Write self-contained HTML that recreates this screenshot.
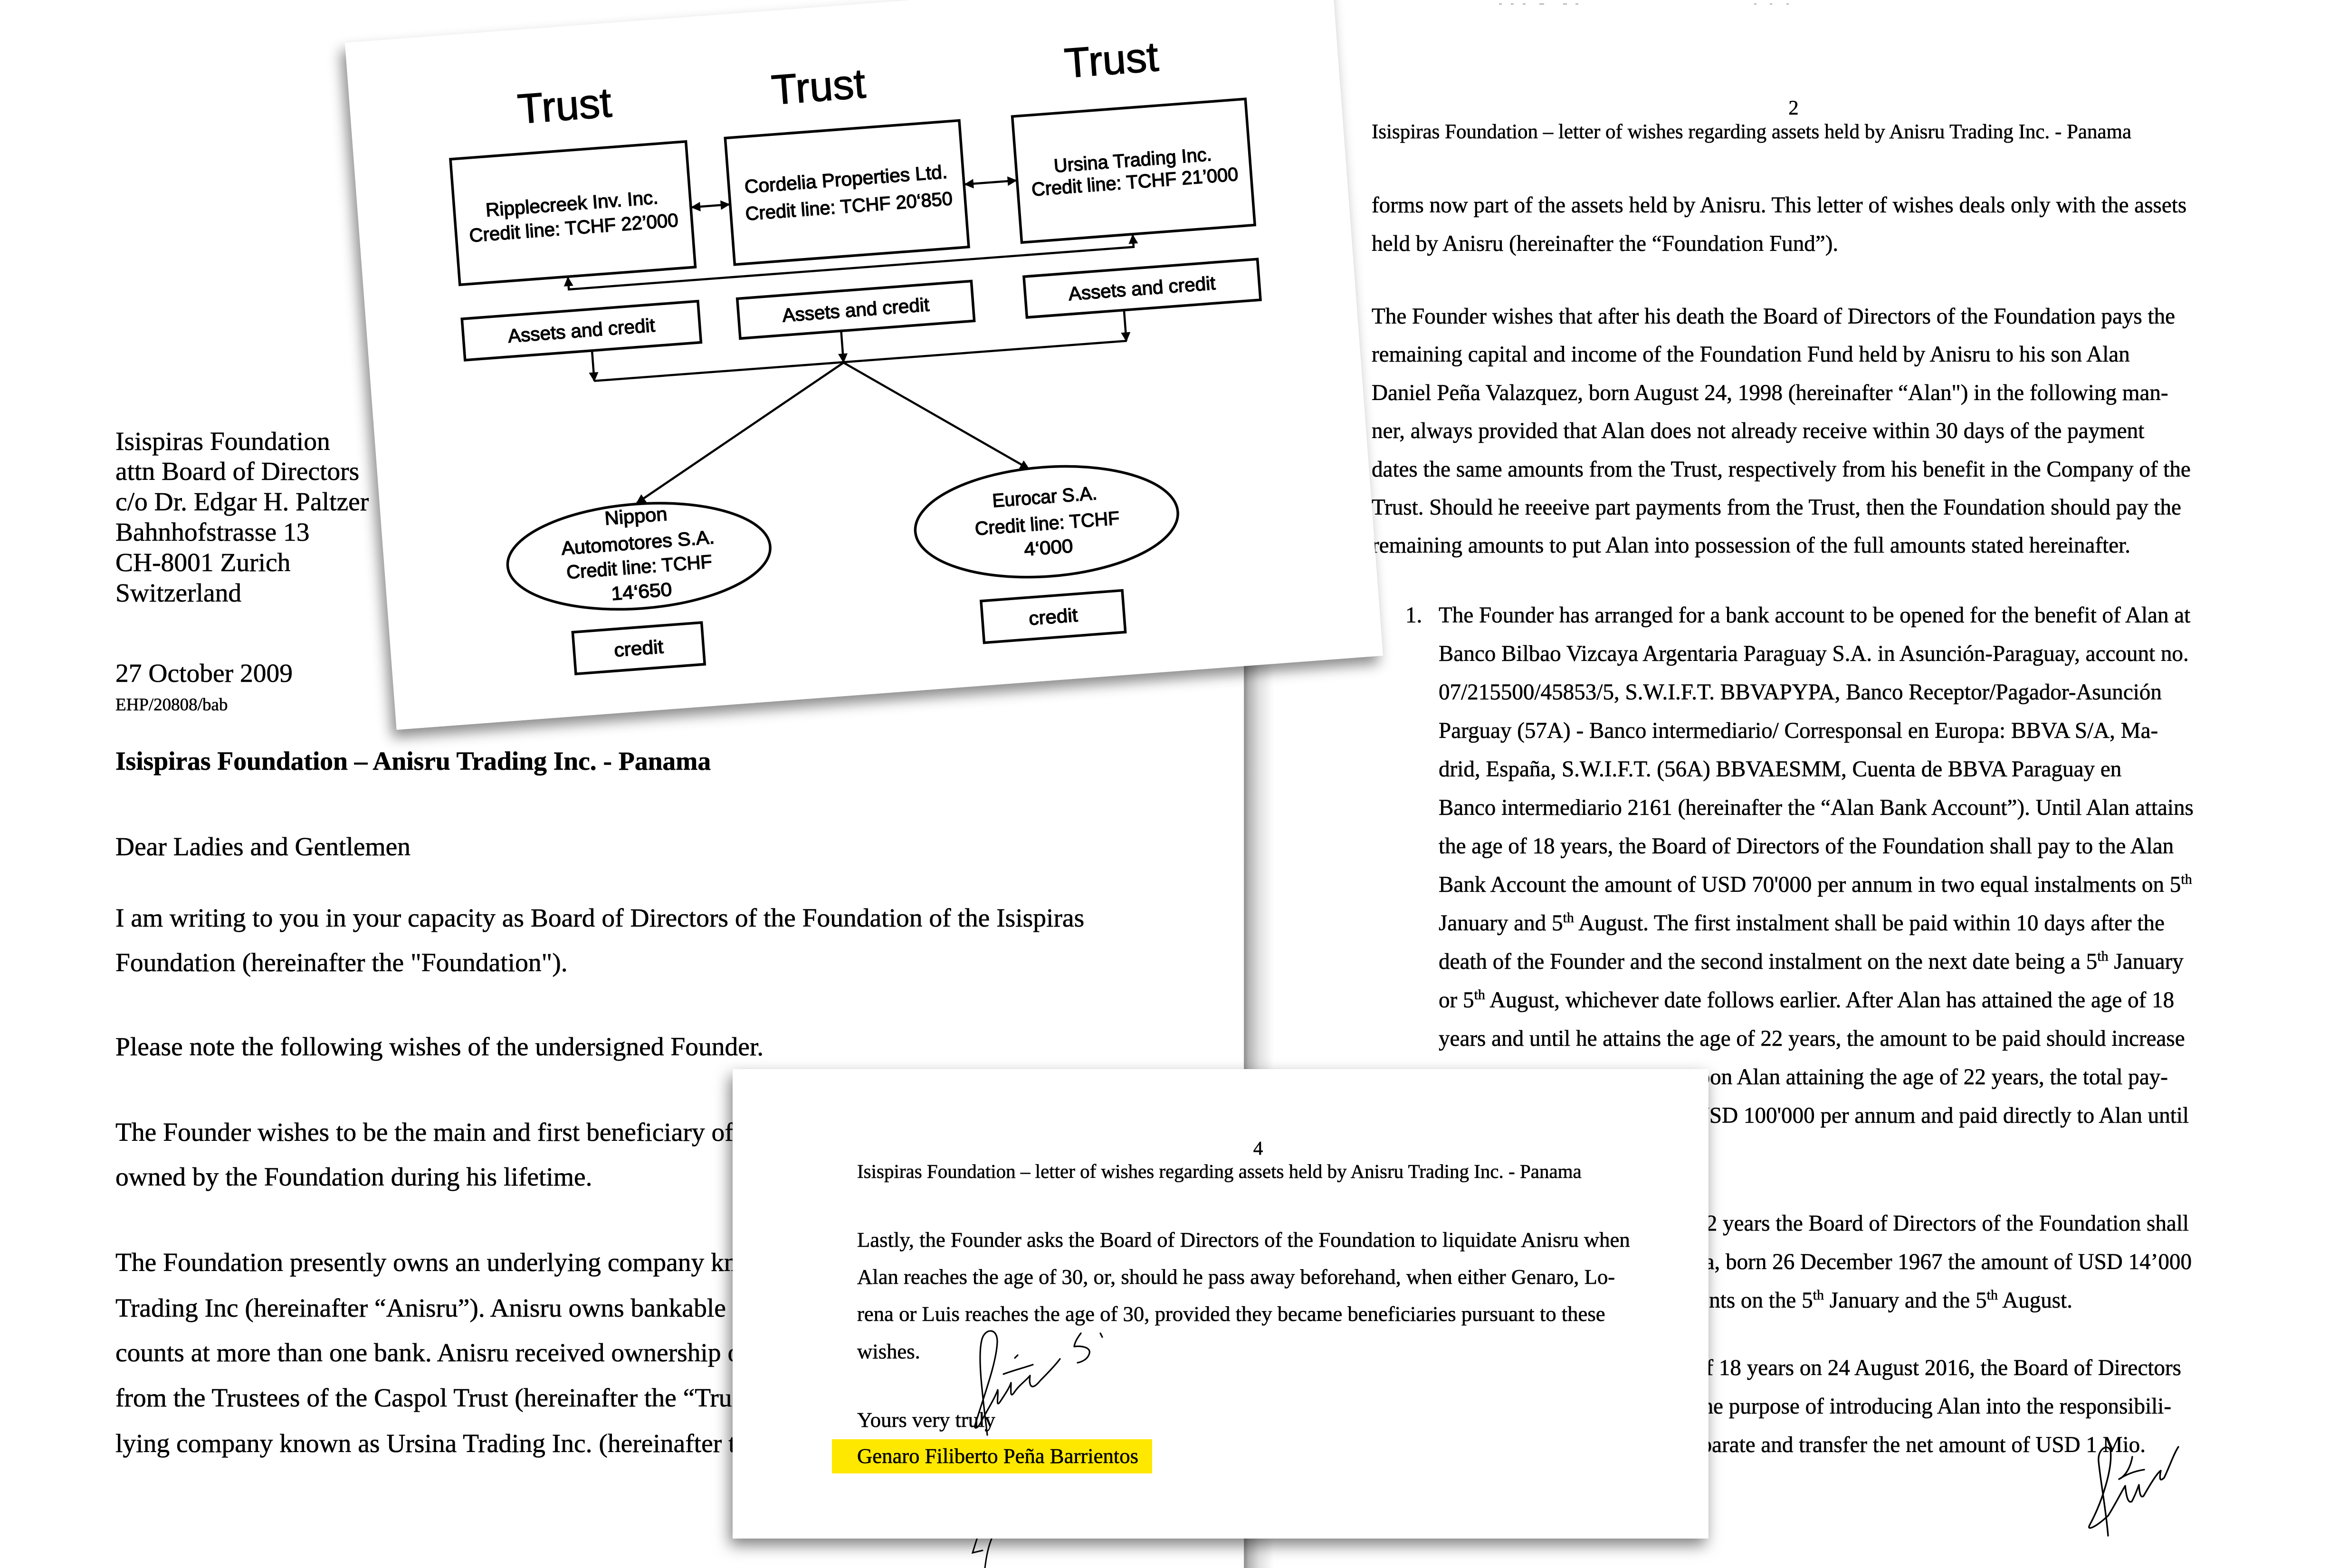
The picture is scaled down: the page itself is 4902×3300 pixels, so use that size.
<!DOCTYPE html>
<html><head><meta charset="utf-8"><title>Letter of wishes</title>
<style>
html,body{margin:0;padding:0;background:#fff;overflow:hidden;}
svg{display:block;}
.s{font-family:"Liberation Serif","Times New Roman",serif;fill:#000;stroke:#000;stroke-width:0.6;}
.d{font-family:"Liberation Sans Narrow","Liberation Sans",sans-serif;fill:#000;stroke:#000;stroke-width:1.4;}
</style></head>
<body>
<svg xmlns="http://www.w3.org/2000/svg" width="4902" height="3300" viewBox="0 0 4902 3300">
<defs>
<filter id="ds1" x="-6%" y="-6%" width="112%" height="116%">
<feDropShadow dx="-10" dy="16" stdDeviation="14" flood-color="#000" flood-opacity="0.45"/>
</filter>
<filter id="ds2" x="-6%" y="-8%" width="112%" height="120%">
<feDropShadow dx="-6" dy="14" stdDeviation="16" flood-color="#000" flood-opacity="0.5"/>
</filter>
<linearGradient id="lg" x1="0" y1="0" x2="1" y2="0">
<stop offset="0" stop-color="#8f8f8f"/>
<stop offset="0.15" stop-color="#b5b5b5"/>
<stop offset="0.5" stop-color="#e0e0e0"/>
<stop offset="1" stop-color="#ffffff"/>
</linearGradient>
<marker id="ah" viewBox="0 0 10 10" refX="9" refY="5" markerUnits="userSpaceOnUse" markerWidth="24" markerHeight="20" orient="auto-start-reverse">
<path d="M0,0 L10,5 L0,10 z" fill="#000"/>
</marker>
</defs>

<rect x="0" y="0" width="4902" height="3300" fill="#fff"/>

<g fill="#bbb">
<rect x="3155" y="7" width="6" height="3"/><rect x="3180" y="7" width="6" height="3"/><rect x="3205" y="7" width="6" height="3"/><rect x="3240" y="7" width="10" height="3"/><rect x="3290" y="7" width="8" height="3"/><rect x="3316" y="7" width="6" height="3"/>
<rect x="3692" y="7" width="5" height="3"/><rect x="3725" y="7" width="5" height="3"/><rect x="3760" y="7" width="5" height="3"/>
</g>

<!-- RIGHT PAGE TEXT -->
<g class="s">
<text x="3775" y="241" font-size="43" text-anchor="middle">2</text>
<text x="2887" y="291" font-size="43">Isispiras Foundation – letter of wishes regarding assets held by Anisru Trading Inc. - Panama</text>
<g font-size="47.1">
<text x="2887" y="447">forms now part of the assets held by Anisru. This letter of wishes deals only with the assets</text>
<text x="2887" y="528">held by Anisru (hereinafter the “Foundation Fund”).</text>
<text x="2887" y="681">The Founder wishes that after his death the Board of Directors of the Foundation pays the</text>
<text x="2887" y="761">remaining capital and income of the Foundation Fund held by Anisru to his son Alan</text>
<text x="2887" y="842">Daniel Peña Valazquez, born August 24, 1998 (hereinafter “Alan") in the following man-</text>
<text x="2887" y="922">ner, always provided that Alan does not already receive within 30 days of the payment</text>
<text x="2887" y="1003">dates the same amounts from the Trust, respectively from his benefit in the Company of the</text>
<text x="2887" y="1083">Trust. Should he reeeive part payments from the Trust, then the Foundation should pay the</text>
<text x="2887" y="1163">remaining amounts to put Alan into possession of the full amounts stated hereinafter.</text>

<text x="2958" y="1310">1.</text>
<text x="3028" y="1310">The Founder has arranged for a bank account to be opened for the benefit of Alan at</text>
<text x="3028" y="1391">Banco Bilbao Vizcaya Argentaria Paraguay S.A. in Asunción-Paraguay, account no.</text>
<text x="3028" y="1472">07/215500/45853/5, S.W.I.F.T. BBVAPYPA, Banco Receptor/Pagador-Asunción</text>
<text x="3028" y="1553">Parguay (57A) - Banco intermediario/ Corresponsal en Europa: BBVA S/A, Ma-</text>
<text x="3028" y="1634">drid, España, S.W.I.F.T. (56A) BBVAESMM, Cuenta de BBVA Paraguay en</text>
<text x="3028" y="1715">Banco intermediario 2161 (hereinafter the “Alan Bank Account”). Until Alan attains</text>
<text x="3028" y="1796">the age of 18 years, the Board of Directors of the Foundation shall pay to the Alan</text>
<text x="3028" y="1877">Bank Account the amount of USD 70'000 per annum in two equal instalments on 5<tspan font-size="30" dy="-17">th</tspan></text>
<text x="3028" y="1958">January and 5<tspan font-size="30" dy="-17">th</tspan><tspan dy="17"> August. The first instalment shall be paid within 10 days after the</tspan></text>
<text x="3028" y="2039">death of the Founder and the second instalment on the next date being a 5<tspan font-size="30" dy="-17">th</tspan><tspan dy="17"> January</tspan></text>
<text x="3028" y="2120">or 5<tspan font-size="30" dy="-17">th</tspan><tspan dy="17"> August, whichever date follows earlier. After Alan has attained the age of 18</tspan></text>
<text x="3028" y="2201">years and until he attains the age of 22 years, the amount to be paid should increase</text>
<text x="4563" y="2282" text-anchor="end">to USD 90'000 per annum. Upon Alan attaining the age of 22 years, the total pay-</text>
<text x="4607" y="2363" text-anchor="end">ment should be USD 100'000 per annum and paid directly to Alan until</text>
<text x="4607" y="2590" text-anchor="end">Upon Alan attaining 22 years the Board of Directors of the Foundation shall</text>
<text x="4613" y="2671" text-anchor="end">pay to Lorena, born 26 December 1967 the amount of USD 14’000</text>
<text x="4362" y="2752" text-anchor="end">instalments on the 5<tspan font-size="30" dy="-17">th</tspan><tspan dy="17"> January and the 5</tspan><tspan font-size="30" dy="-17">th</tspan><tspan dy="17"> August.</tspan></text>
<text x="4591" y="2894" text-anchor="end">Upon Alan reaching the age of 18 years on 24 August 2016, the Board of Directors</text>
<text x="4570" y="2975" text-anchor="end">shall for the purpose of introducing Alan into the responsibili-</text>
<text x="4516" y="3056" text-anchor="end">ties separate and transfer the net amount of USD 1 Mio.</text>
</g>
</g>

<g fill="none" stroke="#000" stroke-width="3.4" stroke-linecap="round" stroke-linejoin="round">
<path d="M4437,3232 C4433,3180 4420,3110 4417,3075 C4415,3050 4435,3038 4442,3052 C4447,3090 4425,3160 4398,3210 C4392,3222 4410,3215 4437,3190"/>
<path d="M4437,3190 C4450,3170 4465,3140 4473,3127 C4475,3145 4478,3165 4487,3160 C4495,3145 4500,3130 4502,3125 C4503,3140 4505,3155 4512,3148 C4525,3125 4540,3100 4548,3095 C4545,3110 4545,3120 4555,3110 C4565,3090 4575,3060 4585,3045"/>
<path d="M4460,3113 C4480,3100 4500,3095 4513,3093"/>
<path d="M4488,3066 C4485,3085 4475,3105 4462,3112"/>
</g>

<!-- LEFT PAGE -->
<rect x="2619" y="0" width="62" height="3300" fill="url(#lg)"/>
<rect x="-100" y="-100" width="2719" height="3500" fill="#fff"/>
<line x1="2619" y1="0" x2="2619" y2="3300" stroke="#9a9a9a" stroke-width="2"/>
<g class="s" font-size="55.5">
<text x="243" y="947">Isispiras Foundation</text>
<text x="243" y="1010">attn Board of Directors</text>
<text x="243" y="1074">c/o Dr. Edgar H. Paltzer</text>
<text x="243" y="1138">Bahnhofstrasse 13</text>
<text x="243" y="1202">CH-8001 Zurich</text>
<text x="243" y="1266">Switzerland</text>
<text x="243" y="1435">27 October 2009</text>
<text x="243" y="1495" font-size="37">EHP/20808/bab</text>
<text x="243" y="1620" font-weight="bold">Isispiras Foundation – Anisru Trading Inc. - Panama</text>
<text x="243" y="1800">Dear Ladies and Gentlemen</text>
<text x="243" y="1950">I am writing to you in your capacity as Board of Directors of the Foundation of the Isispiras</text>
<text x="243" y="2044">Foundation (hereinafter the "Foundation").</text>
<text x="243" y="2221">Please note the following wishes of the undersigned Founder.</text>
<text x="243" y="2401">The Founder wishes to be the main and first beneficiary of the assets</text>
<text x="243" y="2495">owned by the Foundation during his lifetime.</text>
<text x="243" y="2675">The Foundation presently owns an underlying company known as Anisru</text>
<text x="243" y="2771">Trading Inc (hereinafter “Anisru”). Anisru owns bankable assets and ac-</text>
<text x="243" y="2865">counts at more than one bank. Anisru received ownership of the assets</text>
<text x="243" y="2960">from the Trustees of the Caspol Trust (hereinafter the “Trust”) and the under-</text>
<text x="243" y="3056">lying company known as Ursina Trading Inc. (hereinafter the “Company”)</text>
</g>
<g fill="none" stroke="#000" stroke-width="3" stroke-linecap="round">
<path d="M2057,3236 L2047,3268 L2068,3263"/>
<path d="M2088,3236 C2080,3255 2076,3275 2073,3300"/>
</g>

<!-- DIAGRAM PAGE -->
<g transform="translate(726,90) rotate(-4.3)">
<rect x="0" y="0" width="2082" height="1450" fill="#fff" filter="url(#ds1)"/>
<g class="d">
<text x="451" y="197" font-size="88" text-anchor="middle" textLength="198" lengthAdjust="spacingAndGlyphs">Trust</text>
<text x="987" y="197" font-size="88" text-anchor="middle" textLength="198" lengthAdjust="spacingAndGlyphs">Trust</text>
<text x="1606" y="187" font-size="88" text-anchor="middle" textLength="198" lengthAdjust="spacingAndGlyphs">Trust</text>

<text x="451" y="387" font-size="40" text-anchor="middle" textLength="364" lengthAdjust="spacingAndGlyphs">Ripplecreek Inv. Inc.</text>
<text x="451" y="438" font-size="40" text-anchor="middle" textLength="441" lengthAdjust="spacingAndGlyphs">Credit line: TCHF 22’000</text>
<text x="1030" y="379" font-size="40" text-anchor="middle" textLength="428" lengthAdjust="spacingAndGlyphs">Cordelia Properties Ltd.</text>
<text x="1032" y="436" font-size="40" text-anchor="middle" textLength="437" lengthAdjust="spacingAndGlyphs">Credit line: TCHF 20‘850</text>
<text x="1635" y="384" font-size="40" text-anchor="middle" textLength="333" lengthAdjust="spacingAndGlyphs">Ursina Trading Inc.</text>
<text x="1636" y="430" font-size="40" text-anchor="middle" textLength="436" lengthAdjust="spacingAndGlyphs">Credit line: TCHF 21’000</text>

<text x="451" y="655" font-size="40" text-anchor="middle" textLength="310" lengthAdjust="spacingAndGlyphs">Assets and credit</text>
<text x="1030" y="655" font-size="40" text-anchor="middle" textLength="310" lengthAdjust="spacingAndGlyphs">Assets and credit</text>
<text x="1634" y="655" font-size="40" text-anchor="middle" textLength="310" lengthAdjust="spacingAndGlyphs">Assets and credit</text>

<text x="536" y="1053" font-size="40" text-anchor="middle" textLength="132" lengthAdjust="spacingAndGlyphs">Nippon</text>
<text x="536" y="1109" font-size="40" text-anchor="middle" textLength="323" lengthAdjust="spacingAndGlyphs">Automotores S.A.</text>
<text x="535" y="1160" font-size="40" text-anchor="middle" textLength="307" lengthAdjust="spacingAndGlyphs">Credit line: TCHF</text>
<text x="536" y="1212" font-size="40" text-anchor="middle" textLength="128" lengthAdjust="spacingAndGlyphs">14‘650</text>

<text x="1397" y="1077" font-size="40" text-anchor="middle" textLength="221" lengthAdjust="spacingAndGlyphs">Eurocar S.A.</text>
<text x="1398" y="1133" font-size="40" text-anchor="middle" textLength="305" lengthAdjust="spacingAndGlyphs">Credit line: TCHF</text>
<text x="1397" y="1184" font-size="40" text-anchor="middle" textLength="103" lengthAdjust="spacingAndGlyphs">4‘000</text>

<text x="521" y="1331" font-size="40" text-anchor="middle" textLength="104" lengthAdjust="spacingAndGlyphs">credit</text>
<text x="1396" y="1330" font-size="40" text-anchor="middle" textLength="103" lengthAdjust="spacingAndGlyphs">credit</text>
</g>
<g fill="none" stroke="#000" stroke-width="5.5">
<rect x="203" y="261" width="497" height="265"/>
<rect x="783" y="260" width="494" height="267"/>
<rect x="1389" y="260" width="492" height="266"/>
<rect x="202" y="598" width="498" height="87"/>
<rect x="783" y="599" width="494" height="84"/>
<rect x="1388" y="598" width="493" height="86"/>
<ellipse cx="536" cy="1124" rx="277" ry="110"/>
<ellipse cx="1397" cy="1116" rx="277" ry="115"/>
<rect x="385" y="1273" width="272" height="88"/>
<rect x="1247" y="1272" width="298" height="88"/>
</g>
<g fill="none" stroke="#000" stroke-width="4.5">
<line x1="702" y1="400" x2="781" y2="400" marker-start="url(#ah)" marker-end="url(#ah)"/>
<line x1="1279" y1="395" x2="1387" y2="395" marker-start="url(#ah)" marker-end="url(#ah)"/>
<path d="M1623,528 L1623,553 L431,553 L431,528" marker-start="url(#ah)" marker-end="url(#ah)"/>
<path d="M470,687 L470,749" marker-end="url(#ah)"/>
<path d="M996,685 L996,749" marker-end="url(#ah)"/>
<path d="M1593,686 L1593,749" marker-end="url(#ah)"/>
<path d="M470,749 L1594,749"/>
<path d="M996,750 L540,1012" marker-end="url(#ah)"/>
<path d="M996,750 L1368,1002" marker-end="url(#ah)"/>
</g>
</g>

<!-- PAGE 4 -->
<rect x="1542" y="2250" width="2054" height="988" fill="#fff" filter="url(#ds2)"/>
<rect x="1751" y="3029" width="674" height="72" fill="#ffe800"/>
<g class="s">
<text x="2648" y="2430" font-size="41" text-anchor="middle">4</text>
<text x="1804" y="2479" font-size="41">Isispiras Foundation – letter of wishes regarding assets held by Anisru Trading Inc. - Panama</text>
<g font-size="44.7">
<text x="1804" y="2624">Lastly, the Founder asks the Board of Directors of the Foundation to liquidate Anisru when</text>
<text x="1804" y="2702">Alan reaches the age of 30, or, should he pass away beforehand, when either Genaro, Lo-</text>
<text x="1804" y="2780">rena or Luis reaches the age of 30, provided they became beneficiaries pursuant to these</text>
<text x="1804" y="2859">wishes.</text>
<text x="1804" y="3003">Yours very truly</text>
<text x="1804" y="3079">Genaro Filiberto Peña Barrientos</text>
</g>
</g>
<g fill="none" stroke="#000" stroke-width="3.2" stroke-linecap="round" stroke-linejoin="round">
<path d="M2078,3020 C2070,2950 2055,2850 2068,2815 C2076,2795 2100,2795 2099,2825 C2097,2870 2070,2940 2052,3000 C2050,3010 2060,3005 2066,2990"/>
<path d="M2066,2990 C2080,2965 2095,2940 2100,2925 C2102,2935 2095,2965 2105,2950 C2115,2935 2125,2920 2128,2910 C2128,2925 2125,2945 2135,2930 C2145,2915 2160,2905 2168,2895 C2165,2915 2170,2930 2190,2905 C2205,2890 2222,2872 2231,2860"/>
<path d="M2112,2892 C2130,2885 2160,2877 2174,2872"/>
<path d="M2136,2858 L2142,2852"/>
<path d="M2275,2806 C2268,2815 2262,2825 2261,2834 C2275,2832 2296,2835 2293,2848 C2290,2860 2278,2866 2268,2868"/>
<path d="M2316,2806 L2320,2814"/>
</g>
</svg>
</body></html>
